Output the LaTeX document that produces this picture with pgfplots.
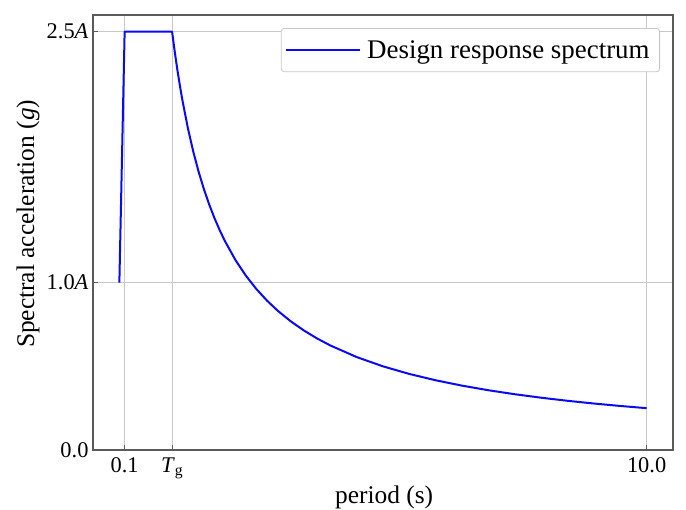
\documentclass[border=0pt]{standalone}
\usepackage{fontspec}
\setmainfont{Liberation Serif}
\usepackage{pgfplots}
\pgfplotsset{compat=1.18}
\definecolor{spine}{RGB}{90,90,90}
\definecolor{gridc}{RGB}{200,200,200}
\definecolor{curve}{RGB}{10,10,240}
\begin{document}
\begin{tikzpicture}
\begin{axis}[
  scale only axis,
  width=580bp, height=435bp,
  xmin=-0.5, xmax=10.5, ymin=0, ymax=2.6,
  xtick={0.1,1.0,10.0},
  xticklabels={0.1, \textit{T}\textsubscript{g}, 10.0},
  ytick={0,1,2.5},
  yticklabels={0.0, 1.0\textit{A}, 2.5\textit{A}},
  xtick pos=bottom, ytick pos=left,
  /pgf/number format/assume math mode=true,
  tick label style={font=\fontsize{22.5}{26}\selectfont},
  xticklabel style={anchor=base, yshift=-22bp},
  yticklabel style={xshift=-1bp},
  label style={font=\fontsize{25.5}{30}\selectfont},
  xlabel={period (s)},
  ylabel={Spectral acceleration (\textit{g})},
  xlabel style={at={(axis description cs:0.502,-0.122)}, anchor=base},
  ylabel style={at={(axis description cs:-0.112,0.52)}, anchor=center},
  tick align=inside,
  major tick length=5bp,
  tick style={spine, line width=1bp},
  axis line style={spine, line width=1.5bp},
  grid=major,
  major grid style={gridc, line width=1bp},
  legend style={at={(0.9776,0.970)}, anchor=north east,
    draw=gridc, rounded corners=3bp, line width=0.8bp,
    font=\fontsize{27}{32}\selectfont,
    inner xsep=4bp, inner ysep=10bp},
  legend cell align=left,
  legend image code/.code={%
    \path (0bp,0bp) -- (74bp,0bp);
    \draw[#1] (4bp,0bp) -- (59bp,0bp);},
  legend style={nodes={inner xsep=6bp}},
]
\addplot[curve, line width=2bp, line join=round] coordinates {
  (0.0,1.0) (0.1,2.5) (1.0,2.5)
  (1.05,2.3810) (1.1,2.2727) (1.15,2.1739) (1.2,2.0833) (1.3,1.9231)
  (1.4,1.7857) (1.5,1.6667) (1.6,1.5625) (1.7,1.4706) (1.8,1.3889)
  (1.9,1.3158) (2.0,1.25) (2.2,1.1364) (2.4,1.0417) (2.6,0.9615)
  (2.8,0.8929) (3.0,0.8333) (3.25,0.7692) (3.5,0.7143) (3.75,0.6667)
  (4.0,0.625) (4.5,0.5556) (5.0,0.5) (5.5,0.4545) (6.0,0.4167)
  (6.5,0.3846) (7.0,0.3571) (7.5,0.3333) (8.0,0.3125) (8.5,0.2941)
  (9.0,0.2778) (9.5,0.2632) (10.0,0.25)
};
\addlegendentry{Design response spectrum}
\end{axis}
\pgfresetboundingbox
\useasboundingbox (current axis.south west) ++(-93bp,-60bp) rectangle ++(686bp,510bp);
\end{tikzpicture}
\end{document}
